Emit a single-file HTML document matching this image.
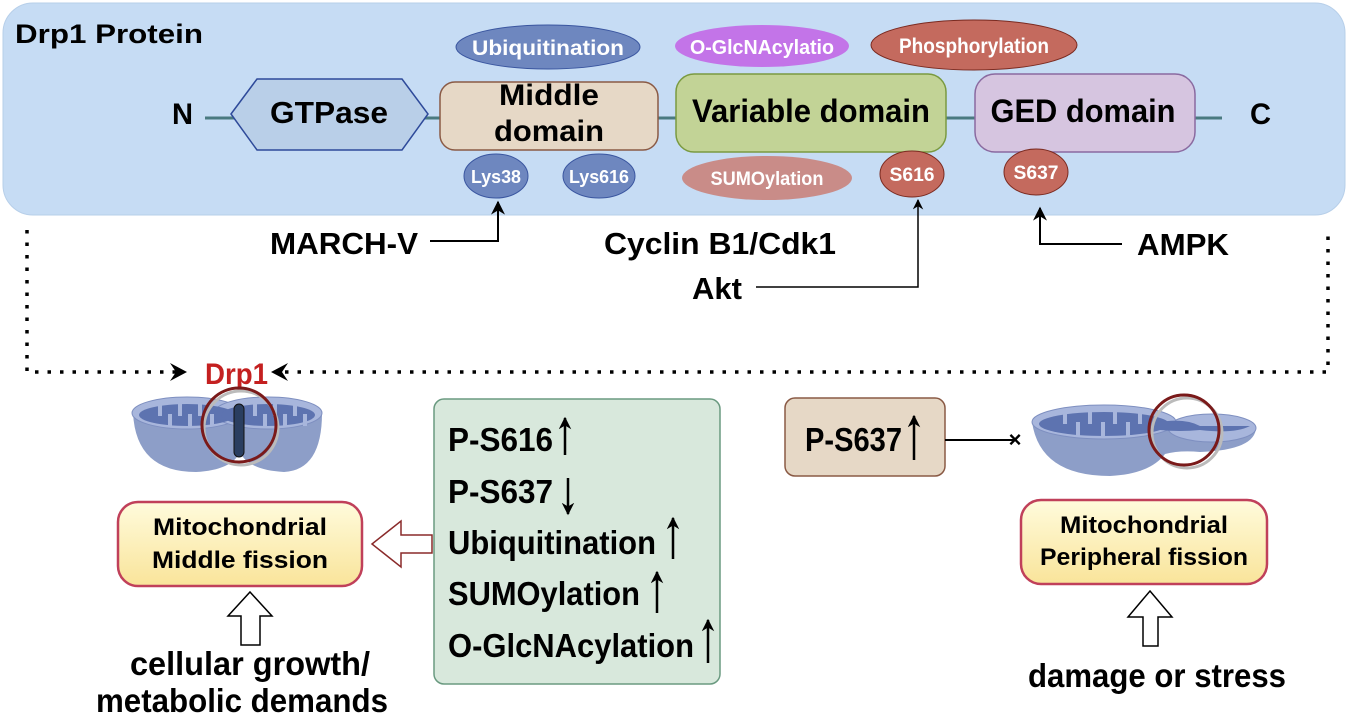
<!DOCTYPE html>
<html><head><meta charset="utf-8"><style>
html,body{margin:0;padding:0;background:#fff;}
svg{display:block;font-family:"Liberation Sans",Arial,sans-serif;font-weight:bold;}
</style></head><body>
<svg width="1350" height="716" viewBox="0 0 1350 716" xmlns="http://www.w3.org/2000/svg">
<defs>
<linearGradient id="yg" x1="0" y1="0" x2="0" y2="1"><stop offset="0" stop-color="#fffbdc"/><stop offset="1" stop-color="#f9e49a"/></linearGradient>
<marker id="ah" viewBox="0 0 10 10" refX="9" refY="5" markerWidth="7" markerHeight="7" orient="auto"><path d="M0,0 L10,5 L0,10 L3,5 z" fill="#000"/></marker>
<marker id="ah2" viewBox="0 0 10 10" refX="9" refY="5" markerWidth="5" markerHeight="5" orient="auto"><path d="M0,0 L10,5 L0,10 L3,5 z" fill="#000"/></marker>
</defs>
<rect x="3" y="3" width="1342" height="212" rx="30" fill="#c6dcf4" stroke="#b7cfe9"/>
<text x="15" y="43" font-size="27" textLength="188" lengthAdjust="spacingAndGlyphs">Drp1 Protein</text>
<line x1="205" y1="118" x2="1222" y2="118" stroke="#4a7a80" stroke-width="3"/>
<text x="172" y="124" font-size="30" textLength="21" lengthAdjust="spacingAndGlyphs">N</text>
<text x="1250" y="124" font-size="30" textLength="21" lengthAdjust="spacingAndGlyphs">C</text>
<polygon points="231,114 257,79 402,79 428,114 402,150 257,150" fill="#b9cfe8" stroke="#2e4a9a" stroke-width="1.5"/>
<text x="329" y="123" font-size="31" text-anchor="middle" textLength="118" lengthAdjust="spacingAndGlyphs">GTPase</text>
<rect x="440" y="82" width="218" height="68" rx="15" fill="#e6d8c6" stroke="#8a5a45" stroke-width="1.5"/>
<text x="549" y="105" font-size="30" text-anchor="middle" textLength="100" lengthAdjust="spacingAndGlyphs">Middle</text>
<text x="549" y="141" font-size="30" text-anchor="middle" textLength="110" lengthAdjust="spacingAndGlyphs">domain</text>
<ellipse cx="548" cy="47" rx="92" ry="22" fill="#6e87bf" stroke="#3a56a0"/>
<text x="548" y="55" font-size="21" fill="#fff" text-anchor="middle" textLength="152" lengthAdjust="spacingAndGlyphs">Ubiquitination</text>
<ellipse cx="496" cy="176" rx="32" ry="22" fill="#6e87bf" stroke="#3a56a0"/>
<text x="496" y="183" font-size="18" fill="#fff" text-anchor="middle" textLength="50" lengthAdjust="spacingAndGlyphs">Lys38</text>
<ellipse cx="599" cy="176" rx="36" ry="22" fill="#6e87bf" stroke="#3a56a0"/>
<text x="599" y="183" font-size="18" fill="#fff" text-anchor="middle" textLength="60" lengthAdjust="spacingAndGlyphs">Lys616</text>
<rect x="676" y="74" width="270" height="78" rx="18" fill="#c2d396" stroke="#7a9a40" stroke-width="1.5"/>
<text x="811" y="122" font-size="32" text-anchor="middle" textLength="238" lengthAdjust="spacingAndGlyphs">Variable domain</text>
<ellipse cx="762" cy="46" rx="87" ry="21" fill="#c374e8"/>
<text x="762" y="54" font-size="20" fill="#fff" text-anchor="middle" textLength="144" lengthAdjust="spacingAndGlyphs">O-GlcNAcylatio</text>
<ellipse cx="767" cy="178" rx="85" ry="22" fill="#c98c88"/>
<text x="767" y="185" font-size="19" fill="#fff" text-anchor="middle" textLength="113" lengthAdjust="spacingAndGlyphs">SUMOylation</text>
<ellipse cx="912" cy="174" rx="32" ry="23" fill="#c46a5e" stroke="#7a2a20"/>
<text x="912" y="181" font-size="19" fill="#fff" text-anchor="middle" textLength="45" lengthAdjust="spacingAndGlyphs">S616</text>
<ellipse cx="974" cy="45" rx="103" ry="25" fill="#c46a5e" stroke="#7a2a20"/>
<text x="974" y="53" font-size="21" fill="#fff" text-anchor="middle" textLength="150" lengthAdjust="spacingAndGlyphs">Phosphorylation</text>
<rect x="975" y="74" width="220" height="78" rx="20" fill="#d6c5e0" stroke="#8a6aa0" stroke-width="1.5"/>
<text x="1083" y="122" font-size="32" text-anchor="middle" textLength="185" lengthAdjust="spacingAndGlyphs">GED domain</text>
<ellipse cx="1036" cy="172" rx="32" ry="23" fill="#c46a5e" stroke="#7a2a20"/>
<text x="1036" y="179" font-size="19" fill="#fff" text-anchor="middle" textLength="45" lengthAdjust="spacingAndGlyphs">S637</text>
<text x="270" y="254" font-size="31" textLength="148" lengthAdjust="spacingAndGlyphs">MARCH-V</text>
<polyline points="430,241 498,241 498,202" fill="none" stroke="#000" stroke-width="2" marker-end="url(#ah)"/>
<text x="720" y="254" font-size="31" text-anchor="middle" textLength="232" lengthAdjust="spacingAndGlyphs">Cyclin B1/Cdk1</text>
<text x="717" y="299" font-size="31" text-anchor="middle" textLength="50" lengthAdjust="spacingAndGlyphs">Akt</text>
<polyline points="756,287 918,287 918,200" fill="none" stroke="#000" stroke-width="1.5" marker-end="url(#ah)"/>
<text x="1137" y="255" font-size="31" textLength="92" lengthAdjust="spacingAndGlyphs">AMPK</text>
<polyline points="1122,244 1040,244 1040,208" fill="none" stroke="#000" stroke-width="2" marker-end="url(#ah)"/>
<g stroke="#000" stroke-width="3.5" stroke-dasharray="3.5,9" fill="none">
<polyline points="27,230 27,372 176,372"/>
<polyline points="285,372 1328,372 1328,230"/>
</g>
<path d="M170,363 L187,372 L170,381 L176,372 z" fill="#000"/>
<path d="M288,363 L271,372 L288,381 L282,372 z" fill="#000"/>
<text x="205" y="384" font-size="30" fill="#c42020" textLength="63" lengthAdjust="spacingAndGlyphs">Drp1</text>
<g>
<path d="M133,413 Q136,472 196,472 Q232,470 240,452 Q248,470 284,472 Q322,470 322,413 Z" fill="#8d9ec8"/>
<ellipse cx="187" cy="413" rx="55" ry="16" fill="#a8b6dc" stroke="#7e8fc0"/>
<ellipse cx="268" cy="413" rx="54" ry="16" fill="#a8b6dc" stroke="#7e8fc0"/>
<ellipse cx="187" cy="415" rx="48" ry="11" fill="#5d73b0"/>
<ellipse cx="268" cy="415" rx="47" ry="11" fill="#5d73b0"/>
<g stroke="#a8b6dc" stroke-width="4">
<line x1="160" y1="404" x2="160" y2="416"/><line x1="180" y1="404" x2="180" y2="416"/><line x1="200" y1="404" x2="200" y2="416"/>
<line x1="170" y1="426" x2="170" y2="414"/><line x1="190" y1="426" x2="190" y2="414"/><line x1="212" y1="426" x2="212" y2="414"/>
<line x1="255" y1="404" x2="255" y2="416"/><line x1="275" y1="404" x2="275" y2="416"/><line x1="295" y1="404" x2="295" y2="416"/>
<line x1="265" y1="426" x2="265" y2="414"/><line x1="285" y1="426" x2="285" y2="414"/><line x1="305" y1="426" x2="305" y2="414"/>
</g>
<circle cx="241" cy="428" r="37" fill="none" stroke="#bbb" stroke-width="3"/>
<circle cx="239" cy="425" r="37" fill="none" stroke="#7a1a1a" stroke-width="3"/>
<rect x="234" y="404" width="10" height="53" rx="5" fill="#2a3e60" stroke="#111"/>
</g>
<rect x="118" y="502" width="244" height="84" rx="20" fill="url(#yg)" stroke="#c0405a" stroke-width="2.5"/>
<text x="240" y="535" font-size="24" text-anchor="middle" textLength="174" lengthAdjust="spacingAndGlyphs">Mitochondrial</text>
<text x="240" y="568" font-size="24" text-anchor="middle" textLength="176" lengthAdjust="spacingAndGlyphs">Middle fission</text>
<path d="M372,544 L401,521 L401,535 L432,535 L432,553 L401,553 L401,567 Z" fill="#fff" stroke="#8a2a2a" stroke-width="1.5"/>
<path d="M250,592 L272,616 L260,616 L260,645 L241,645 L241,616 L228,616 Z" fill="#fff" stroke="#000" stroke-width="1.5"/>
<text x="250" y="675" font-size="33" text-anchor="middle" textLength="240" lengthAdjust="spacingAndGlyphs">cellular growth/</text>
<text x="242" y="712" font-size="33" text-anchor="middle" textLength="292" lengthAdjust="spacingAndGlyphs">metabolic demands</text>
<rect x="434" y="399" width="286" height="285" rx="10" fill="#d8e8dc" stroke="#6a9a80" stroke-width="1.5"/>
<g font-size="33">
<text x="448" y="451" textLength="105" lengthAdjust="spacingAndGlyphs">P-S616</text>
<text x="448" y="503" textLength="105" lengthAdjust="spacingAndGlyphs">P-S637</text>
<text x="448" y="554" textLength="208" lengthAdjust="spacingAndGlyphs">Ubiquitination</text>
<text x="448" y="605" textLength="192" lengthAdjust="spacingAndGlyphs">SUMOylation</text>
<text x="448" y="657" textLength="246" lengthAdjust="spacingAndGlyphs">O-GlcNAcylation</text>
</g>
<g stroke="#000" stroke-width="2.5">
<line x1="565" y1="455" x2="565" y2="418" marker-end="url(#ah2)"/>
<line x1="568" y1="478" x2="568" y2="514" marker-end="url(#ah2)"/>
<line x1="673" y1="559" x2="673" y2="518" marker-end="url(#ah2)"/>
<line x1="657" y1="613" x2="657" y2="572" marker-end="url(#ah2)"/>
<line x1="708" y1="663" x2="708" y2="620" marker-end="url(#ah2)"/>
</g>
<rect x="785" y="398" width="160" height="78" rx="10" fill="#e6d8c6" stroke="#8a5a45" stroke-width="1.5"/>
<text x="805" y="451" font-size="33" textLength="97" lengthAdjust="spacingAndGlyphs">P-S637</text>
<line x1="914" y1="460" x2="914" y2="416" stroke="#000" stroke-width="2.5" marker-end="url(#ah2)"/>
<line x1="945" y1="440" x2="1016" y2="440" stroke="#000" stroke-width="2"/>
<text x="1015" y="447" font-size="22" text-anchor="middle">×</text>
<g>
<path d="M1032,422 Q1040,476 1110,476 Q1150,474 1165,454 Q1180,450 1200,452 Q1256,450 1256,427 Z" fill="#8d9ec8"/>
<ellipse cx="1212" cy="428" rx="44" ry="14" fill="#a8b6dc" stroke="#7e8fc0"/>
<ellipse cx="1104" cy="422" rx="72" ry="17" fill="#a8b6dc" stroke="#7e8fc0"/>
<ellipse cx="1104" cy="424" rx="65" ry="12" fill="#5d73b0"/>
<path d="M1160,422 Q1185,418 1200,426 L1250,426 Q1235,434 1200,430 Q1180,432 1160,430 Z" fill="#5d73b0"/>
<g stroke="#a8b6dc" stroke-width="4">
<line x1="1065" y1="410" x2="1065" y2="424"/><line x1="1090" y1="410" x2="1090" y2="424"/><line x1="1115" y1="410" x2="1115" y2="424"/><line x1="1140" y1="410" x2="1140" y2="424"/>
<line x1="1078" y1="436" x2="1078" y2="422"/><line x1="1103" y1="436" x2="1103" y2="422"/><line x1="1128" y1="436" x2="1128" y2="422"/>
</g>
<circle cx="1187" cy="433" r="35" fill="none" stroke="#bbb" stroke-width="3"/>
<circle cx="1184" cy="430" r="35" fill="none" stroke="#7a1a1a" stroke-width="3"/>
</g>
<rect x="1021" y="500" width="246" height="84" rx="20" fill="url(#yg)" stroke="#c0405a" stroke-width="2.5"/>
<text x="1144" y="533" font-size="24" text-anchor="middle" textLength="168" lengthAdjust="spacingAndGlyphs">Mitochondrial</text>
<text x="1144" y="565" font-size="24" text-anchor="middle" textLength="208" lengthAdjust="spacingAndGlyphs">Peripheral fission</text>
<path d="M1150,591 L1172,617 L1158,617 L1158,646 L1143,646 L1143,617 L1128,617 Z" fill="#fff" stroke="#000" stroke-width="1.5"/>
<text x="1157" y="687" font-size="33" text-anchor="middle" textLength="258" lengthAdjust="spacingAndGlyphs">damage or stress</text>
</svg>
</body></html>
